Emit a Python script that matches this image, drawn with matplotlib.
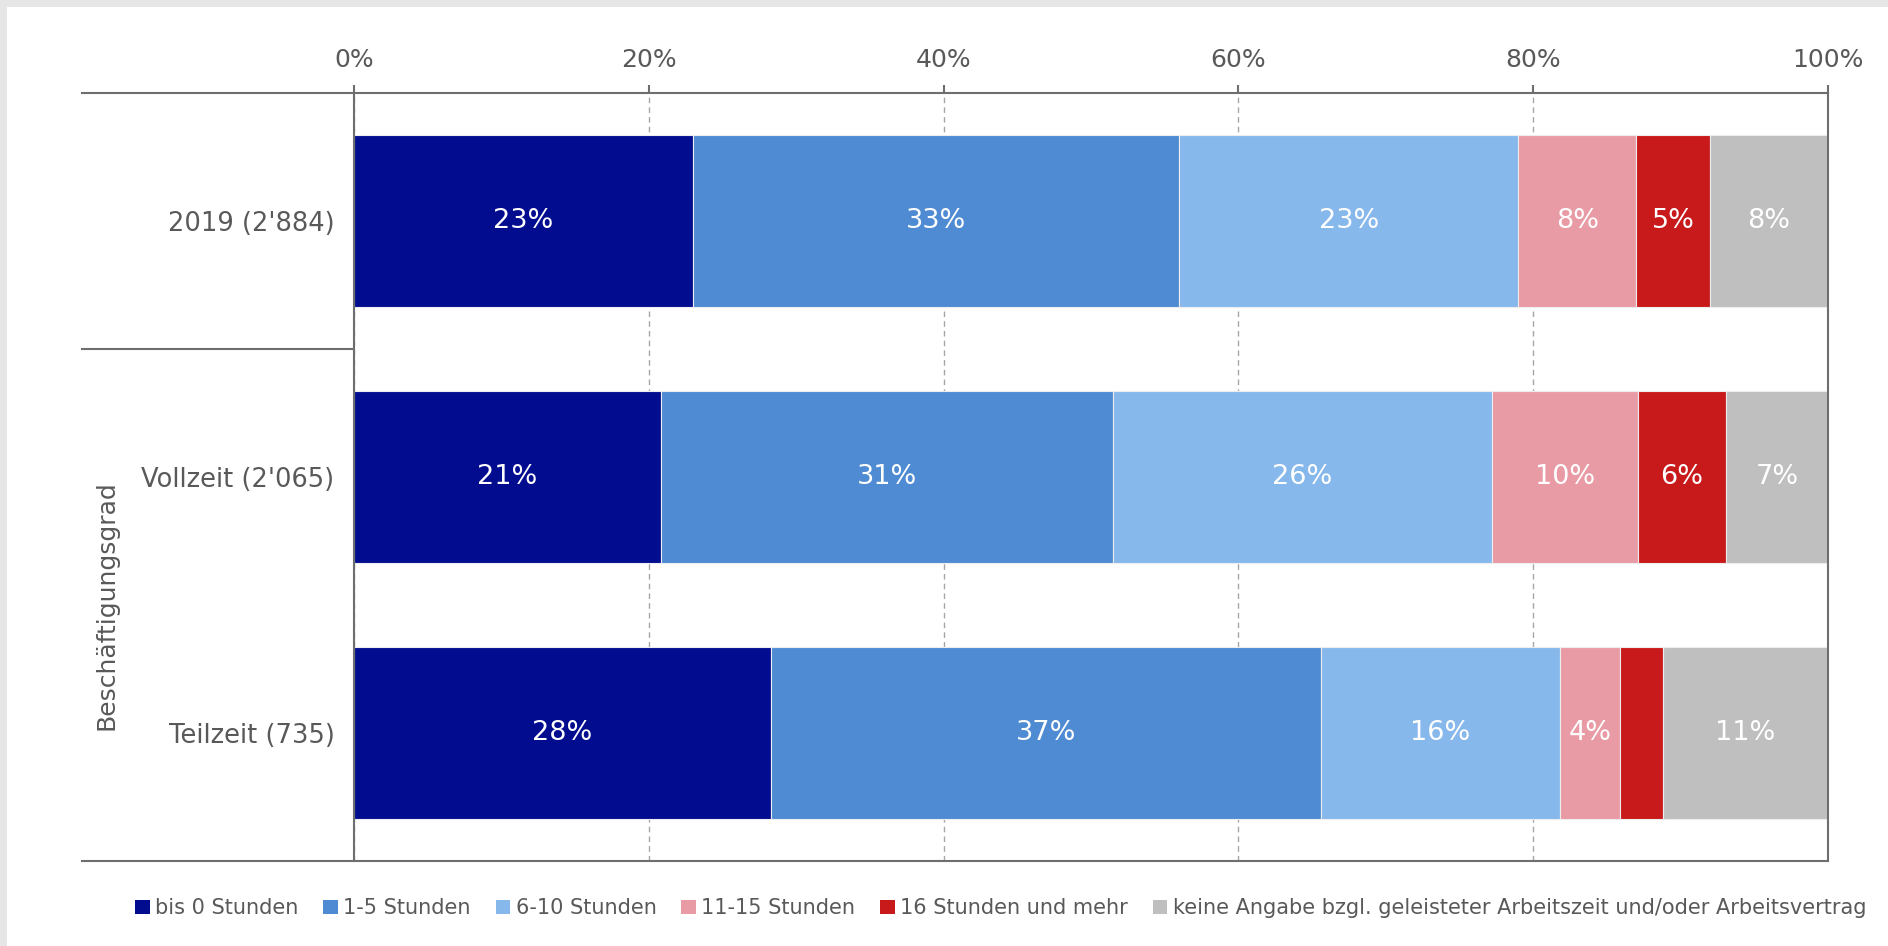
import matplotlib
matplotlib.use("Agg")
import matplotlib.pyplot as plt
import numpy as np
from matplotlib.lines import Line2D
from matplotlib.patches import Rectangle, Patch

# ---- data ----
categories = ["2019 (2'884)", "Vollzeit (2'065)", "Teilzeit (735)"]
series_names = ["bis 0 Stunden", "1-5 Stunden", "6-10 Stunden", "11-15 Stunden",
                "16 Stunden und mehr",
                "keine Angabe bzgl. geleisteter Arbeitszeit und/oder Arbeitsvertrag"]
bis0 = [23.0, 20.8, 28.3]
h1_5 = [33.0, 30.7, 37.3]
h6_10 = [23.0, 25.7, 16.2]
h11_15 = [8.0, 9.9, 4.1]
h16plus = [5.0, 6.0, 2.9]
keine = [8.0, 6.9, 11.2]
xticks = [0, 20, 40, 60, 80, 100]
xtick_labels = ["0%", "20%", "40%", "60%", "80%", "100%"]
ylabel = "Beschäftigungsgrad"

colors = ["#020C8E", "#4F8BD3", "#87B8EC", "#E99BA5", "#C8191B", "#BFBFBF"]
text_color = "#595959"
line_color = "#6E6E6E"

series = [bis0, h1_5, h6_10, h11_15, h16plus, keine]

W, H = 1888, 946
fig = plt.figure(figsize=(W / 100, H / 100), dpi=100)
fig.patch.set_facecolor("#E6E6E6")
fig.patches.append(Rectangle((7 / W, 0), 1, 1 - 7 / H, transform=fig.transFigure,
                             facecolor="white", edgecolor="none", zorder=-10))

ax = fig.add_axes([354 / W, 1 - 861 / H, (1828 - 354) / W, (861 - 92.7) / H])
ax.set_facecolor("white")

y = np.arange(len(categories))
left = np.zeros(len(categories))
for vals, name, col in zip(series, series_names, colors):
    vals = np.array(vals)
    ax.barh(y, vals, left=left, height=0.67, color=col, edgecolor="#EDEDED",
            linewidth=0.8, label=name, zorder=3)
    for yi, l, v in zip(y, left, vals):
        if v >= 3.5:
            ax.text(l + v / 2, yi, f"{round(v):.0f}%", ha="center", va="center",
                    color="white", fontsize=19.5, zorder=4)
    left += vals

ax.set_xlim(0, 100)
ax.set_ylim(len(categories) - 0.5, -0.5)
ax.set_xticks(xticks)
ax.set_xticklabels(xtick_labels)
ax.xaxis.tick_top()
ax.tick_params(axis="x", length=6, width=1.5, color=line_color, pad=9,
               labelsize=18, labelcolor=text_color)
ax.set_yticks(y)
ax.set_yticklabels(categories)
ax.tick_params(axis="y", length=0, pad=14, labelsize=18.5, labelcolor=text_color)

ax.grid(axis="x", linestyle=(0, (4, 3)), color="#A6A6A6", linewidth=1, zorder=0)
ax.set_axisbelow(True)

for s in ["top", "bottom"]:
    ax.spines[s].set_visible(False)
for s in ["left", "right"]:
    ax.spines[s].set_color(line_color)
    ax.spines[s].set_linewidth(1.5)
    ax.spines[s].set_zorder(5)

ext = (82 - 354) / (1828 - 354)
for yy in [0, 1]:
    ax.add_line(Line2D([ext, 1], [yy, yy], transform=ax.transAxes, color=line_color,
                       linewidth=1.5, clip_on=False, zorder=5))
# separator between 2019 and Beschäftigungsgrad group
ax.add_line(Line2D([ext, 0], [1 - 1 / 3, 1 - 1 / 3], transform=ax.transAxes,
                   color=line_color, linewidth=1.5, clip_on=False, zorder=5))

ax.text(-0.168, 1 / 3, ylabel, rotation=90, ha="center", va="center",
        transform=ax.transAxes, fontsize=18, color=text_color)

handles = [Patch(facecolor=c, edgecolor="none") for c in colors]
fig.legend(handles, series_names, loc="center", bbox_to_anchor=(0.530, 0.040),
           ncol=6, frameon=False, fontsize=15, handlelength=0.7, handleheight=0.7,
           handletextpad=0.25, columnspacing=1.2, labelcolor=text_color)

fig.savefig("out.png", dpi=100, facecolor=fig.get_facecolor())
